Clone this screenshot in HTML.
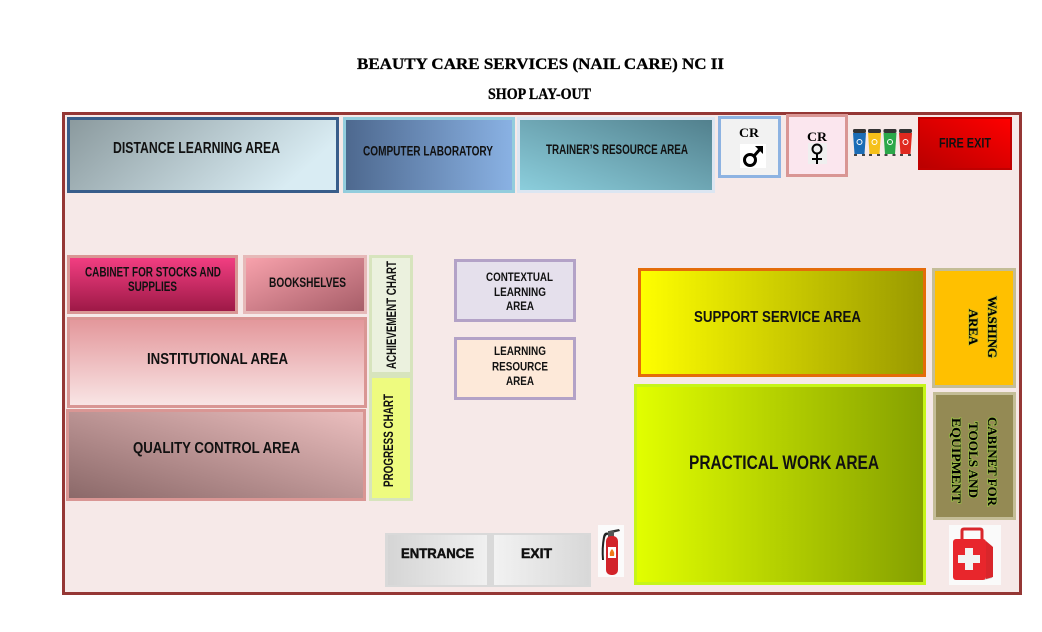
<!DOCTYPE html>
<html>
<head>
<meta charset="utf-8">
<style>
  html,body{margin:0;padding:0;background:#ffffff;}
  svg{display:block;}
  .t{font-family:"Liberation Sans",Arial,sans-serif;font-weight:bold;fill:#111;}
  .s{font-family:"Liberation Serif","Times New Roman",serif;font-weight:bold;fill:#000;}
</style>
</head>
<body>
<svg width="1042" height="632" viewBox="0 0 1042 632" xmlns="http://www.w3.org/2000/svg">
  <defs>
    <linearGradient id="gdl" x1="0" y1="0" x2="1" y2="0.3">
      <stop offset="0" stop-color="#8a999d"/><stop offset="1" stop-color="#d9ecf3"/>
    </linearGradient>
    <linearGradient id="gcl" x1="0" y1="0" x2="1" y2="0">
      <stop offset="0" stop-color="#4d688e"/><stop offset="1" stop-color="#8ab2e4"/>
    </linearGradient>
    <linearGradient id="gtr" x1="0" y1="1" x2="1" y2="0">
      <stop offset="0" stop-color="#8ccfdd"/><stop offset="1" stop-color="#517f8c"/>
    </linearGradient>
    <linearGradient id="gfe" x1="0" y1="1" x2="1" y2="0">
      <stop offset="0" stop-color="#b80000"/><stop offset="1" stop-color="#ff0000"/>
    </linearGradient>
    <linearGradient id="gcs" x1="0" y1="0" x2="0" y2="1">
      <stop offset="0" stop-color="#f43f83"/><stop offset="1" stop-color="#9b1845"/>
    </linearGradient>
    <linearGradient id="gbs" x1="0" y1="0" x2="1" y2="1">
      <stop offset="0" stop-color="#f9a3ad"/><stop offset="1" stop-color="#a55c67"/>
    </linearGradient>
    <linearGradient id="gin" x1="0" y1="0" x2="0" y2="1">
      <stop offset="0" stop-color="#e3969a"/><stop offset="1" stop-color="#f9e6e6"/>
    </linearGradient>
    <linearGradient id="gqc" x1="0" y1="1" x2="1" y2="0">
      <stop offset="0" stop-color="#8a6868"/><stop offset="1" stop-color="#ecbfbf"/>
    </linearGradient>
    <linearGradient id="gss" x1="0" y1="0" x2="1" y2="0">
      <stop offset="0" stop-color="#ffff00"/><stop offset="1" stop-color="#999900"/>
    </linearGradient>
    <linearGradient id="gpw" x1="0" y1="0" x2="1" y2="0">
      <stop offset="0" stop-color="#e2ff00"/><stop offset="1" stop-color="#85a000"/>
    </linearGradient>
    <linearGradient id="gen" x1="0" y1="0" x2="1" y2="0">
      <stop offset="0" stop-color="#d5d5d5"/><stop offset="1" stop-color="#f0f0f0"/>
    </linearGradient>
    <linearGradient id="gex" x1="0" y1="0" x2="1" y2="0">
      <stop offset="0" stop-color="#f2f2f2"/><stop offset="1" stop-color="#d8d8d8"/>
    </linearGradient>
  </defs>

  <!-- Title -->
  <text class="s" x="357" y="69" font-size="16" textLength="367" lengthAdjust="spacingAndGlyphs" stroke="#000" stroke-width="0.3">BEAUTY CARE SERVICES (NAIL CARE) NC II</text>
  <text class="s" x="488" y="99" font-size="16" textLength="103" lengthAdjust="spacingAndGlyphs" stroke="#000" stroke-width="0.3">SHOP LAY-OUT</text>

  <!-- Frame -->
  <rect x="63.5" y="113.5" width="957" height="480" fill="#f6e9e8" stroke="#953735" stroke-width="3"/>

  <!-- Top row -->
  <rect x="68.5" y="118.5" width="269" height="73" fill="url(#gdl)" stroke="#385d8a" stroke-width="3"/>
  <text class="t" x="113" y="153" font-size="16" textLength="167" lengthAdjust="spacingAndGlyphs">DISTANCE LEARNING AREA</text>

  <rect x="344.5" y="118.5" width="169" height="73" fill="url(#gcl)" stroke="#93cddd" stroke-width="3"/>
  <text class="t" x="363" y="155.5" font-size="13.5" textLength="130" lengthAdjust="spacingAndGlyphs">COMPUTER LABORATORY</text>

  <rect x="518.5" y="118.5" width="195" height="73" fill="url(#gtr)" stroke="#dce6f2" stroke-width="3"/>
  <text class="t" x="546" y="154" font-size="13.5" textLength="142" lengthAdjust="spacingAndGlyphs">TRAINER’S RESOURCE AREA</text>

  <!-- CR male -->
  <rect x="719.5" y="117.5" width="60" height="59" fill="#f2f2f2" stroke="#8db3e2" stroke-width="3"/>
  <text class="s" x="739" y="137" font-size="13" textLength="20" lengthAdjust="spacingAndGlyphs">CR</text>
  <rect x="740" y="144" width="26" height="24" fill="#ffffff"/>
  <circle cx="750" cy="160" r="5.5" fill="none" stroke="#000" stroke-width="3"/>
  <line x1="754" y1="156" x2="761" y2="148" stroke="#000" stroke-width="3"/>
  <path d="M755 146 L763 146 L763 154 Z" fill="#000"/>

  <!-- CR female -->
  <rect x="787.5" y="115.5" width="59" height="60" fill="#fbe6ee" stroke="#d99694" stroke-width="3"/>
  <text class="s" x="807" y="141" font-size="13" textLength="20" lengthAdjust="spacingAndGlyphs">CR</text>
  <rect x="808" y="143" width="19" height="21" fill="#efefef"/>
  <circle cx="817" cy="149" r="4.5" fill="none" stroke="#000" stroke-width="2"/>
  <line x1="817" y1="153.5" x2="817" y2="164" stroke="#000" stroke-width="2"/>
  <line x1="812" y1="159" x2="822" y2="159" stroke="#000" stroke-width="2"/>

  <!-- Bins -->
  <g>
    <rect x="853" y="129" width="13" height="4" rx="1.5" fill="#333"/>
    <path d="M853 133 L866 133 L864.5 154 L854.5 154 Z" fill="#1b6cb5"/>
    <circle cx="859.5" cy="142" r="2.5" fill="none" stroke="#fff" stroke-width="1"/>
    <rect x="854" y="154" width="3" height="2" fill="#444"/><rect x="862" y="154" width="3" height="2" fill="#444"/>

    <rect x="868" y="129" width="13" height="4" rx="1.5" fill="#333"/>
    <path d="M868 133 L881 133 L879.5 154 L869.5 154 Z" fill="#f5c01a"/>
    <circle cx="874.5" cy="142" r="2.5" fill="none" stroke="#fff" stroke-width="1"/>
    <rect x="869" y="154" width="3" height="2" fill="#444"/><rect x="877" y="154" width="3" height="2" fill="#444"/>

    <rect x="883.5" y="129" width="13" height="4" rx="1.5" fill="#333"/>
    <path d="M883.5 133 L896.5 133 L895 154 L885 154 Z" fill="#2ba84a"/>
    <circle cx="890" cy="142" r="2.5" fill="none" stroke="#fff" stroke-width="1"/>
    <rect x="884.5" y="154" width="3" height="2" fill="#444"/><rect x="892.5" y="154" width="3" height="2" fill="#444"/>

    <rect x="899" y="129" width="13" height="4" rx="1.5" fill="#333"/>
    <path d="M899 133 L912 133 L910.5 154 L900.5 154 Z" fill="#e0291f"/>
    <circle cx="905.5" cy="142" r="2.5" fill="none" stroke="#fff" stroke-width="1"/>
    <rect x="900" y="154" width="3" height="2" fill="#444"/><rect x="908" y="154" width="3" height="2" fill="#444"/>
  </g>

  <!-- Fire exit -->
  <rect x="919" y="118" width="92" height="51" fill="url(#gfe)" stroke="#c00000" stroke-width="2"/>
  <text class="t" x="939" y="147.5" font-size="14" textLength="52" lengthAdjust="spacingAndGlyphs">FIRE EXIT</text>

  <!-- Left block -->
  <rect x="68.5" y="256.5" width="168" height="56" fill="url(#gcs)" stroke="#d99694" stroke-width="3"/>
  <text class="t" x="85" y="276.5" font-size="13.5" textLength="136" lengthAdjust="spacingAndGlyphs">CABINET FOR STOCKS AND</text>
  <text class="t" x="128" y="291" font-size="13.5" textLength="49" lengthAdjust="spacingAndGlyphs">SUPPLIES</text>

  <rect x="244.5" y="256.5" width="121" height="56" fill="url(#gbs)" stroke="#e6b9b8" stroke-width="3"/>
  <text class="t" x="269" y="287" font-size="13.5" textLength="77" lengthAdjust="spacingAndGlyphs">BOOKSHELVES</text>

  <rect x="68.5" y="318.5" width="297" height="88" fill="url(#gin)" stroke="#d99694" stroke-width="3"/>
  <text class="t" x="147" y="364" font-size="16" textLength="141" lengthAdjust="spacingAndGlyphs">INSTITUTIONAL AREA</text>

  <rect x="67.5" y="410.5" width="297" height="89" fill="url(#gqc)" stroke="#d99694" stroke-width="3"/>
  <text class="t" x="133" y="453" font-size="16" textLength="167" lengthAdjust="spacingAndGlyphs">QUALITY CONTROL AREA</text>

  <!-- Charts -->
  <rect x="370.5" y="256.5" width="41" height="117" fill="#ebf1de" stroke="#d7e4bd" stroke-width="3"/>
  <text class="t" transform="translate(396,369) rotate(-90)" x="0" y="0" font-size="13.5" textLength="108" lengthAdjust="spacingAndGlyphs">ACHIEVEMENT CHART</text>

  <rect x="370.5" y="376.5" width="41" height="123" fill="#eefb7f" stroke="#d7e4bd" stroke-width="3"/>
  <text class="t" transform="translate(393,487) rotate(-90)" x="0" y="0" font-size="13.5" textLength="93" lengthAdjust="spacingAndGlyphs">PROGRESS CHART</text>

  <!-- Middle boxes -->
  <rect x="455.5" y="260.5" width="119" height="60" fill="#e5e0ec" stroke="#b3a2c7" stroke-width="3"/>
  <text class="t" x="486" y="281" font-size="12" textLength="67" lengthAdjust="spacingAndGlyphs">CONTEXTUAL</text>
  <text class="t" x="494" y="296" font-size="12" textLength="52" lengthAdjust="spacingAndGlyphs">LEARNING</text>
  <text class="t" x="506" y="310" font-size="12" textLength="28" lengthAdjust="spacingAndGlyphs">AREA</text>

  <rect x="455.5" y="338.5" width="119" height="60" fill="#fde9d9" stroke="#b3a2c7" stroke-width="3"/>
  <text class="t" x="494" y="355" font-size="12" textLength="52" lengthAdjust="spacingAndGlyphs">LEARNING</text>
  <text class="t" x="492" y="370.5" font-size="12" textLength="56" lengthAdjust="spacingAndGlyphs">RESOURCE</text>
  <text class="t" x="506" y="385" font-size="12" textLength="28" lengthAdjust="spacingAndGlyphs">AREA</text>

  <!-- Right block -->
  <rect x="639.5" y="269.5" width="285" height="106" fill="url(#gss)" stroke="#e46c0a" stroke-width="3"/>
  <text class="t" x="694" y="322" font-size="16" textLength="167" lengthAdjust="spacingAndGlyphs">SUPPORT SERVICE AREA</text>

  <rect x="635.5" y="385.5" width="289" height="198" fill="url(#gpw)" stroke="#c6f51a" stroke-width="3"/>
  <text class="t" x="689" y="469" font-size="19.5" textLength="190" lengthAdjust="spacingAndGlyphs">PRACTICAL WORK AREA</text>

  <rect x="933.5" y="269.5" width="81" height="117" fill="#ffc000" stroke="#c4bd97" stroke-width="3"/>
  <g class="s" font-size="13">
    <text transform="translate(988,296) rotate(90)" x="0" y="0" textLength="62" lengthAdjust="spacingAndGlyphs" stroke="#8fb040" stroke-width="1.6" stroke-opacity="0.55">WASHING</text>
    <text transform="translate(988,296) rotate(90)" x="0" y="0" textLength="62" lengthAdjust="spacingAndGlyphs">WASHING</text>
    <text transform="translate(969,309) rotate(90)" x="0" y="0" textLength="36" lengthAdjust="spacingAndGlyphs" stroke="#8fb040" stroke-width="1.6" stroke-opacity="0.55">AREA</text>
    <text transform="translate(969,309) rotate(90)" x="0" y="0" textLength="36" lengthAdjust="spacingAndGlyphs">AREA</text>
  </g>

  <rect x="934.5" y="393.5" width="80" height="125" fill="#948a54" stroke="#c4bd97" stroke-width="3"/>
  <g class="s" font-size="13">
    <text transform="translate(988,417) rotate(90)" x="0" y="0" textLength="89" lengthAdjust="spacingAndGlyphs" stroke="#9ad040" stroke-width="1.8" stroke-opacity="0.6">CABINET FOR</text>
    <text transform="translate(988,417) rotate(90)" x="0" y="0" textLength="89" lengthAdjust="spacingAndGlyphs">CABINET FOR</text>
    <text transform="translate(969,422) rotate(90)" x="0" y="0" textLength="76" lengthAdjust="spacingAndGlyphs" stroke="#9ad040" stroke-width="1.8" stroke-opacity="0.6">TOOLS AND</text>
    <text transform="translate(969,422) rotate(90)" x="0" y="0" textLength="76" lengthAdjust="spacingAndGlyphs">TOOLS AND</text>
    <text transform="translate(952,418) rotate(90)" x="0" y="0" textLength="85" lengthAdjust="spacingAndGlyphs" stroke="#9ad040" stroke-width="1.8" stroke-opacity="0.6">EQUIPMENT</text>
    <text transform="translate(952,418) rotate(90)" x="0" y="0" textLength="85" lengthAdjust="spacingAndGlyphs">EQUIPMENT</text>
  </g>

  <!-- First aid kit -->
  <rect x="949" y="525" width="52" height="60" fill="#fafafa"/>
  <path d="M962 540 L962 531 Q962 529 964 529 L980 529 Q982 529 982 531 L982 540" fill="none" stroke="#d9262b" stroke-width="3"/>
  <path d="M984 540 L992 546 L992 578 L984 580 Z" fill="#c8c8c8"/>
  <path d="M986 541 L993 547 L993 577 L986 579 Z" fill="#d9262b"/>
  <rect x="953" y="539" width="33" height="41" rx="3" fill="#e8262c"/>
  <path d="M965 548 L973 548 L973 555 L980 555 L980 563 L973 563 L973 570 L965 570 L965 563 L958 563 L958 555 L965 555 Z" fill="#f2f2f2"/>

  <!-- Entrance / Exit -->
  <rect x="385" y="533" width="206" height="54" fill="#d9d9d9"/>
  <rect x="388" y="535" width="99" height="50" fill="url(#gen)"/>
  <rect x="494" y="535" width="95" height="50" fill="url(#gex)"/>
  <text class="t" x="401" y="558" font-size="13.5" textLength="73" lengthAdjust="spacingAndGlyphs" stroke="#111" stroke-width="0.5">ENTRANCE</text>
  <text class="t" x="521" y="558" font-size="13.5" textLength="31" lengthAdjust="spacingAndGlyphs" stroke="#111" stroke-width="0.5">EXIT</text>

  <!-- Fire extinguisher -->
  <rect x="598" y="525" width="26" height="52" fill="#fbfbfb"/>
  <path d="M609 533 Q604 531 603 537 Q601 548 602 560 L604 560 Q603 548 605 538 Q606 534 609 535 Z" fill="#222"/>
  <path d="M609 531 L619 529 L620 531 L612 533 Z" fill="#333"/>
  <rect x="608" y="531" width="6" height="6" fill="#555"/>
  <rect x="606" y="536" width="12" height="39" rx="5" fill="#d2232a"/>
  <rect x="608" y="547" width="8" height="11" fill="#ffffff"/>
  <path d="M612 549 Q615 552 614 556 L610 556 Q609 552 612 549 Z" fill="#f07a1a"/>
</svg>
</body>
</html>
